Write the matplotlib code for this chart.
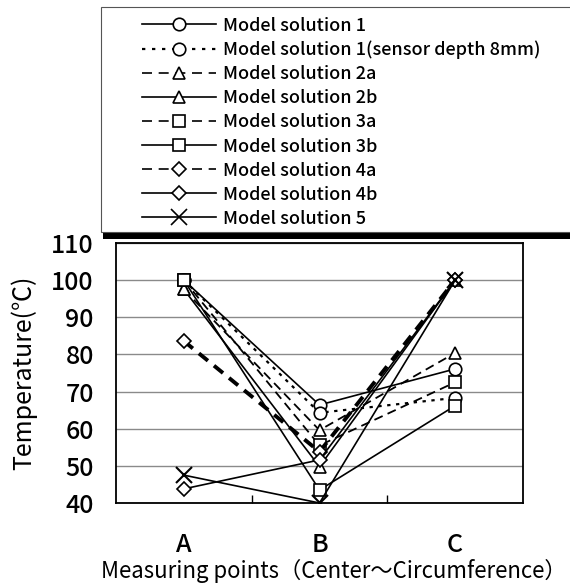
import matplotlib
matplotlib.use("Agg")
import matplotlib.pyplot as plt
from matplotlib.lines import Line2D
from matplotlib.patches import Rectangle

plt.rcParams['font.family'] = ['Noto Sans CJK JP', 'DejaVu Sans']
plt.rcParams['font.weight'] = 'medium'

categories = ["A", "B", "C"]
series_names = [
    "Model solution 1",
    "Model solution 1(sensor depth 8mm)",
    "Model solution 2a",
    "Model solution 2b",
    "Model solution 3a",
    "Model solution 3b",
    "Model solution 4a",
    "Model solution 4b",
    "Model solution 5",
]
ms1 = [100, 66.4, 76.1]
ms1_8mm = [100, 64.3, 68.3]
ms2a = [97.5, 59.6, 80.4]
ms2b = [97.5, 49.8, 100]
ms3a = [100, 55.5, 72.5]
ms3b = [100, 43.5, 66.2]
ms4a = [83.6, 53.8, 100]
ms4b = [43.8, 51.6, 100]
ms5 = [47.5, 40, 100]
values = [ms1, ms1_8mm, ms2a, ms2b, ms3a, ms3b, ms4a, ms4b, ms5]

markers = ['o', 'o', '^', '^', 's', 's', 'D', 'D', 'x']
styles = ['-', ':', '--', '-', '--', '-', '--', '-', '-']
plot_lw = [1.2, 1.6, 1.3, 1.2, 1.3, 1.2, 2.8, 1.2, 1.2]
msizes = [9, 9, 9, 9, 9, 9, 7, 7, 12]

fig = plt.figure(figsize=(5.70, 5.84), dpi=100)
ax = fig.add_axes([116/570, 1-503/584, (523-116)/570, (503-243)/584])

x = list(range(len(categories)))
for i, (name, vals) in enumerate(zip(series_names, values)):
    kw = dict(color='black', lw=plot_lw[i], marker=markers[i], markersize=msizes[i],
              markerfacecolor='white', markeredgecolor='black', markeredgewidth=1.2,
              zorder=3 + (5 if markers[i] == 'x' else 0))
    if styles[i] == '--':
        kw['dashes'] = (5, 3) if i != 6 else (3, 2)
    elif styles[i] == ':':
        kw['dashes'] = (1.5, 2.5)
    else:
        kw['linestyle'] = styles[i]
    if markers[i] == 'x':
        kw['markeredgewidth'] = 1.5
    ax.plot(x, vals, **kw)

ax.set_xlim(-0.5, 2.5)
ax.set_ylim(40, 110)
ax.set_yticks(range(40, 111, 10))
ax.yaxis.grid(True, color='#8a8a8a', lw=1.0)
ax.set_axisbelow(True)
ax.set_xticks(x)
ax.set_xticklabels(categories)
ax.set_xticks([0.5, 1.5], minor=True)
ax.tick_params(axis='x', which='major', length=0, pad=21, labelsize=18)
ax.tick_params(axis='x', which='minor', direction='in', length=6, width=1)
ax.tick_params(axis='y', which='major', length=0, pad=16, labelsize=18)
for s in ax.spines.values():
    s.set_linewidth(1.3)

ax.set_ylabel("Temperature(℃)", fontsize=18, labelpad=10)
ax.set_xlabel("Measuring points（Center～Circumference）", fontsize=16)
ax.xaxis.set_label_coords((334-116)/407, -0.215)

# legend box with shadow bar
fig.patches.append(Rectangle((103/570, 1-239/584), (575-103)/570, 6/584,
                             transform=fig.transFigure, facecolor='black', edgecolor='none'))
fig.patches.append(Rectangle((101/570, 1-232/584), (580-101)/570, (232-7)/584,
                             transform=fig.transFigure, facecolor='white', edgecolor='#555555', lw=0.8))

handles = []
for i in range(len(series_names)):
    kw = dict(color='black', lw=1.2, marker=markers[i], markersize=9 if markers[i] != 'x' else 11,
              markerfacecolor='white', markeredgecolor='black', markeredgewidth=1.2)
    if styles[i] == '--':
        kw['dashes'] = (6, 4)
    elif styles[i] == ':':
        kw['dashes'] = (1.5, 3)
        kw['lw'] = 1.6
    handles.append(Line2D([], [], **kw))
    if markers[i] == 'D':
        handles[-1].set_markersize(7)

fig.legend(handles, series_names, loc='upper left', bbox_to_anchor=(129/570, 1-4/584),
           frameon=False, fontsize=13, handlelength=4.1, handletextpad=0.4,
           labelspacing=0.335, borderpad=0.2)

fig.savefig("out.png", dpi=100)
